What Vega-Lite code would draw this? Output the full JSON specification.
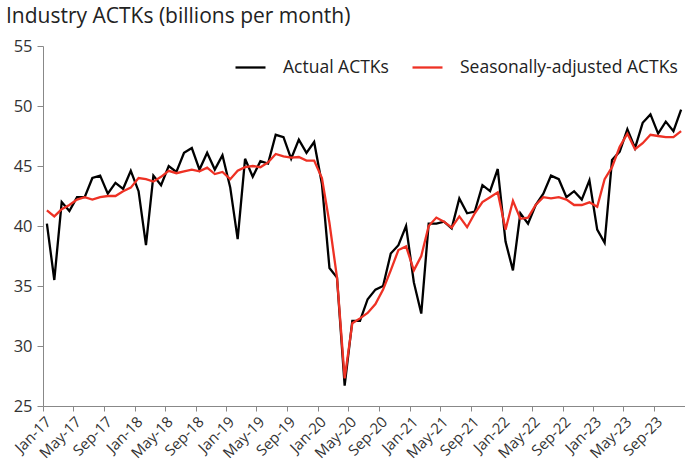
{
  "$schema": "https://vega.github.io/schema/vega-lite/v6.json",
  "width": 642,
  "height": 360,
  "autosize": {"type": "none"},
  "padding": {"left": 43, "top": 46, "right": 0, "bottom": 63},
  "background": "white",
  "config": {"view": {"stroke": null}, "font": "Open Sans"},
  "title": {
    "text": "Industry ACTKs (billions per month)",
    "anchor": "start",
    "frame": "group",
    "dx": -37,
    "dy": 28,
    "fontSize": 21,
    "fontWeight": "normal",
    "color": "#222222",
    "baseline": "bottom",
    "offset": 18
  },
  "data": {
    "values": [
      {"date": "2017-01-01", "actual": 40.2, "adjusted": 41.3},
      {"date": "2017-02-01", "actual": 35.5, "adjusted": 40.8},
      {"date": "2017-03-01", "actual": 42.0, "adjusted": 41.4},
      {"date": "2017-04-01", "actual": 41.25, "adjusted": 41.75},
      {"date": "2017-05-01", "actual": 42.4, "adjusted": 42.2},
      {"date": "2017-06-01", "actual": 42.4, "adjusted": 42.4},
      {"date": "2017-07-01", "actual": 44.0, "adjusted": 42.2},
      {"date": "2017-08-01", "actual": 44.2, "adjusted": 42.4},
      {"date": "2017-09-01", "actual": 42.7, "adjusted": 42.5},
      {"date": "2017-10-01", "actual": 43.6, "adjusted": 42.5},
      {"date": "2017-11-01", "actual": 43.1, "adjusted": 42.9},
      {"date": "2017-12-01", "actual": 44.6, "adjusted": 43.2},
      {"date": "2018-01-01", "actual": 42.9, "adjusted": 44.0},
      {"date": "2018-02-01", "actual": 38.4, "adjusted": 43.9},
      {"date": "2018-03-01", "actual": 44.2, "adjusted": 43.7},
      {"date": "2018-04-01", "actual": 43.4, "adjusted": 44.1},
      {"date": "2018-05-01", "actual": 45.0, "adjusted": 44.6},
      {"date": "2018-06-01", "actual": 44.5, "adjusted": 44.4},
      {"date": "2018-07-01", "actual": 46.1, "adjusted": 44.55},
      {"date": "2018-08-01", "actual": 46.5, "adjusted": 44.7},
      {"date": "2018-09-01", "actual": 44.7, "adjusted": 44.55},
      {"date": "2018-10-01", "actual": 46.1, "adjusted": 44.86},
      {"date": "2018-11-01", "actual": 44.7, "adjusted": 44.33},
      {"date": "2018-12-01", "actual": 45.9, "adjusted": 44.5},
      {"date": "2019-01-01", "actual": 43.2, "adjusted": 43.9},
      {"date": "2019-02-01", "actual": 38.9, "adjusted": 44.6},
      {"date": "2019-03-01", "actual": 45.6, "adjusted": 44.9},
      {"date": "2019-04-01", "actual": 44.1, "adjusted": 45.0},
      {"date": "2019-05-01", "actual": 45.4, "adjusted": 44.9},
      {"date": "2019-06-01", "actual": 45.2, "adjusted": 45.3},
      {"date": "2019-07-01", "actual": 47.6, "adjusted": 46.0},
      {"date": "2019-08-01", "actual": 47.4, "adjusted": 45.8},
      {"date": "2019-09-01", "actual": 45.6, "adjusted": 45.7},
      {"date": "2019-10-01", "actual": 47.2, "adjusted": 45.75},
      {"date": "2019-11-01", "actual": 46.1, "adjusted": 45.45},
      {"date": "2019-12-01", "actual": 47.0, "adjusted": 45.45},
      {"date": "2020-01-01", "actual": 43.5, "adjusted": 44.0},
      {"date": "2020-02-01", "actual": 36.5, "adjusted": 40.25},
      {"date": "2020-03-01", "actual": 35.7, "adjusted": 35.7},
      {"date": "2020-04-01", "actual": 26.7, "adjusted": 27.3},
      {"date": "2020-05-01", "actual": 32.1, "adjusted": 31.9},
      {"date": "2020-06-01", "actual": 32.1, "adjusted": 32.3},
      {"date": "2020-07-01", "actual": 33.9, "adjusted": 32.75},
      {"date": "2020-08-01", "actual": 34.7, "adjusted": 33.5},
      {"date": "2020-09-01", "actual": 35.0, "adjusted": 34.7},
      {"date": "2020-10-01", "actual": 37.7, "adjusted": 36.3},
      {"date": "2020-11-01", "actual": 38.4, "adjusted": 38.0},
      {"date": "2020-12-01", "actual": 40.0, "adjusted": 38.3},
      {"date": "2021-01-01", "actual": 35.3, "adjusted": 36.3},
      {"date": "2021-02-01", "actual": 32.7, "adjusted": 37.5},
      {"date": "2021-03-01", "actual": 40.2, "adjusted": 40.0},
      {"date": "2021-04-01", "actual": 40.2, "adjusted": 40.7},
      {"date": "2021-05-01", "actual": 40.36, "adjusted": 40.36},
      {"date": "2021-06-01", "actual": 39.8, "adjusted": 39.86},
      {"date": "2021-07-01", "actual": 42.3, "adjusted": 40.8},
      {"date": "2021-08-01", "actual": 41.06, "adjusted": 39.9},
      {"date": "2021-09-01", "actual": 41.2, "adjusted": 41.06},
      {"date": "2021-10-01", "actual": 43.4, "adjusted": 42.0},
      {"date": "2021-11-01", "actual": 42.9, "adjusted": 42.4},
      {"date": "2021-12-01", "actual": 44.75, "adjusted": 42.8},
      {"date": "2022-01-01", "actual": 38.7, "adjusted": 39.7},
      {"date": "2022-02-01", "actual": 36.3, "adjusted": 42.1},
      {"date": "2022-03-01", "actual": 41.06, "adjusted": 40.6},
      {"date": "2022-04-01", "actual": 40.2, "adjusted": 40.7},
      {"date": "2022-05-01", "actual": 41.75, "adjusted": 41.75},
      {"date": "2022-06-01", "actual": 42.7, "adjusted": 42.4},
      {"date": "2022-07-01", "actual": 44.2, "adjusted": 42.3},
      {"date": "2022-08-01", "actual": 43.9, "adjusted": 42.4},
      {"date": "2022-09-01", "actual": 42.4, "adjusted": 42.2},
      {"date": "2022-10-01", "actual": 42.9, "adjusted": 41.75},
      {"date": "2022-11-01", "actual": 42.2, "adjusted": 41.75},
      {"date": "2022-12-01", "actual": 43.8, "adjusted": 41.97},
      {"date": "2023-01-01", "actual": 39.7, "adjusted": 41.6},
      {"date": "2023-02-01", "actual": 38.6, "adjusted": 43.9},
      {"date": "2023-03-01", "actual": 45.5, "adjusted": 44.9},
      {"date": "2023-04-01", "actual": 46.2, "adjusted": 46.6},
      {"date": "2023-05-01", "actual": 48.06, "adjusted": 47.7},
      {"date": "2023-06-01", "actual": 46.5, "adjusted": 46.4},
      {"date": "2023-07-01", "actual": 48.6, "adjusted": 46.9},
      {"date": "2023-08-01", "actual": 49.3, "adjusted": 47.6},
      {"date": "2023-09-01", "actual": 47.7, "adjusted": 47.5},
      {"date": "2023-10-01", "actual": 48.7, "adjusted": 47.4},
      {"date": "2023-11-01", "actual": 47.9, "adjusted": 47.4},
      {"date": "2023-12-01", "actual": 49.7, "adjusted": 47.9}
    ]
  },
  "transform": [{"fold": ["actual", "adjusted"], "as": ["series", "value"]}],
  "mark": {"type": "line", "strokeWidth": 2.3},
  "encoding": {
    "x": {
      "field": "date",
      "type": "temporal",
      "timeUnit": "utcyearmonth",
      "bandPosition": 0.5,
      "scale": {
        "type": "utc",
        "domain": [
          {"year": 2017, "month": 1, "date": 1, "utc": true},
          {"year": 2024, "month": 1, "date": 1, "utc": true}
        ]
      },
      "axis": {
        "title": null,
        "grid": false,
        "labelExpr": "utcFormat(datum.value, '%b-%y')",
        "values": [
          {"year": 2017, "month": 1, "date": 1, "utc": true},
          {"year": 2017, "month": 5, "date": 1, "utc": true},
          {"year": 2017, "month": 9, "date": 1, "utc": true},
          {"year": 2018, "month": 1, "date": 1, "utc": true},
          {"year": 2018, "month": 5, "date": 1, "utc": true},
          {"year": 2018, "month": 9, "date": 1, "utc": true},
          {"year": 2019, "month": 1, "date": 1, "utc": true},
          {"year": 2019, "month": 5, "date": 1, "utc": true},
          {"year": 2019, "month": 9, "date": 1, "utc": true},
          {"year": 2020, "month": 1, "date": 1, "utc": true},
          {"year": 2020, "month": 5, "date": 1, "utc": true},
          {"year": 2020, "month": 9, "date": 1, "utc": true},
          {"year": 2021, "month": 1, "date": 1, "utc": true},
          {"year": 2021, "month": 5, "date": 1, "utc": true},
          {"year": 2021, "month": 9, "date": 1, "utc": true},
          {"year": 2022, "month": 1, "date": 1, "utc": true},
          {"year": 2022, "month": 5, "date": 1, "utc": true},
          {"year": 2022, "month": 9, "date": 1, "utc": true},
          {"year": 2023, "month": 1, "date": 1, "utc": true},
          {"year": 2023, "month": 5, "date": 1, "utc": true},
          {"year": 2023, "month": 9, "date": 1, "utc": true}
        ],
        "labelAngle": -45,
        "labelFontSize": 15,
        "labelColor": "#333333",
        "labelPadding": 3,
        "tickSize": 5,
        "tickColor": "#888888",
        "domainColor": "#888888",
        "labelOverlap": false
      }
    },
    "y": {
      "field": "value",
      "type": "quantitative",
      "scale": {"domain": [25, 55], "nice": false, "zero": false},
      "axis": {
        "title": null,
        "grid": false,
        "values": [25, 30, 35, 40, 45, 50, 55],
        "labelFontSize": 16.5,
        "labelColor": "#333333",
        "labelPadding": 5,
        "tickSize": 6,
        "tickColor": "#888888",
        "domainColor": "#888888"
      }
    },
    "color": {
      "field": "series",
      "type": "nominal",
      "scale": {"domain": ["actual", "adjusted"], "range": ["#000000", "#ee3124"]},
      "legend": {
        "title": null,
        "orient": "none",
        "legendX": 191,
        "legendY": 5,
        "direction": "horizontal",
        "symbolType": "stroke",
        "symbolSize": 900,
        "symbolStrokeWidth": 2.3,
        "labelFontSize": 17.5,
        "labelColor": "#222222",
        "labelLimit": 400,
        "labelOffset": 16,
        "columnPadding": 18,
        "labelExpr": "datum.label == 'actual' ? 'Actual ACTKs' : 'Seasonally-adjusted ACTKs'"
      }
    }
  }
}
